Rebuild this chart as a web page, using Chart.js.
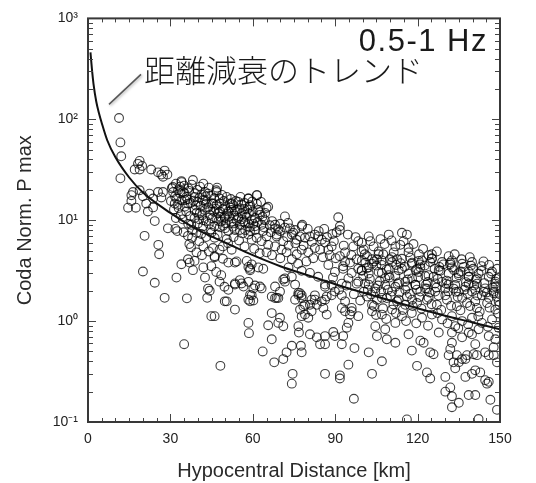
<!DOCTYPE html>
<html>
<head>
<meta charset="utf-8">
<script src="https://cdn.jsdelivr.net/npm/chart.js@4.4.1/dist/chart.umd.min.js"></script>
<style>
  html, body { margin: 0; padding: 0; background: #fff; }
  canvas { display: block; }
</style>
</head>
<body>
<canvas id="c" width="536" height="483"></canvas>
<script>
// ---------------- data ----------------
const xTickValues = [0, 30, 60, 90, 120, 150];
const yTickValues = [0.1, 1, 10, 100, 1000];
const yTickLabels = ['10\u207B\u00B9', '10\u2070', '10\u00B9', '10\u00B2', '10\u00B3'];
const xTitle = 'Hypocentral Distance [km]';
const yTitle = 'Coda Norm. P max';
const bandLabel = '0.5-1 Hz';
const trendLabel = '距離減衰のトレンド';

// attenuation trend curve (distance km, value)
const trendKm   = [0.9, 1.5, 2, 3, 4, 5, 7, 10, 15, 20, 30, 40, 50, 60, 70, 80, 90, 100, 110, 120, 130, 140, 150];
const trendPmax = [460, 300, 225, 150, 115, 92, 62, 42, 26.5, 18.8, 11.8, 8.0, 6.0, 4.5, 3.5, 2.85, 2.32, 1.92, 1.6, 1.34, 1.13, 0.97, 0.83];

// observations [hypocentral distance km, coda normalised P max]
const nearObs = [
  [11.3,103],[11.8,59],[12.1,43],[11.8,26],
  [18.8,38.7],[18.2,36.2],[17,31.8],[18.8,31.8],[19.7,34.5],
  [23,31.8],[25.5,29.8],[26.7,28.3],[27.9,31],[28.9,28.3],[27.3,27],
  [16.4,19],[15.8,17.7],[18.8,19.8],[15.8,15.5],[14.6,13.3],[17.4,13.3],
  [20,17.3],[22.4,18.3],[23.7,16.4],[21.2,14.6],[21.8,12.2],[23.7,13.4],[25.5,19],[26.7,16.8],[27.3,19],
  [24.3,9.8],[20.6,7.0],[25.6,5.7],[25.9,4.6],[29.1,8.3],[31.8,8.2],[32.5,7.8],
  [20,3.1],[24.3,2.4],[27.9,1.7],[32.2,2.7]
];
const midObs = [
  [34,24.4],[38.2,25],[30.9,21.3],[32.8,19.8],[34.6,19.1],[32.2,16.4],[34,15.8],[35.8,17],[31.6,14.6],[35.2,13.6],
  [36.4,14.6],[38.8,17],[40,15.2],[41.9,15.8],[43.7,18.3],[46.7,19.8],[45.5,14.6],[47.9,14.6],[38.8,12.6],[40.7,11.7],
  [42.5,12.6],[44.3,11.3],[46.7,10.5],[48.5,9.7],[49.7,10.9],[38.8,10.5],[40,9.3],[41.9,8.7],[37.6,9.0],[44.9,7.5],
  [46.1,6.7],[45.5,5.3],[47.9,5.1],[46.1,4.4],[49.1,5.5],[36.4,4.1],[38.8,3.95],[36.4,7.0],[36.9,5.8],[37.5,5.4],
  [34.1,23.8],[46.8,19],[48,16.4],[52.3,14.7],[58.4,16.4],[61.4,17.7],[59,13.6],[62,12.6],[65,13.2],[56,11.7],
  [52.3,12.6],[54.1,10],[57.2,9.45],[60.8,10.5],[64.4,10],[68.1,9.0],[71.7,8.45],[75.4,8.0],[77.8,8.7],[71.7,10.9],
  [74.2,7.2],[68.7,7.2],[65,6.9],[60.8,8.0],[58.4,7.2],[55.3,8.0],[51.1,7.8],[49.9,10.5],[47.4,11.7],[45,14.7],
  [42.6,15.8],[39,18.5],[35.3,15.8],[31.7,17.2],[30.5,20.7],[33.5,18.5],[36.5,20.7],[40.8,21.5],[42.6,19],[54.7,15.2],
  [34,3.66],[37,3.8],[38.2,3.2],[42,3.4],[42.6,2.7],[43.7,2.1],[44.3,2.0],[43.4,1.7],[44.9,1.12],[46.1,1.12],
  [35,0.59],[48.2,0.36],[49.8,1.57],[36,1.68],[44.9,3.5],[46.7,3.07],[48.5,2.85],[47.9,2.46],[49.7,2.19],[46.1,4.3],[49.1,4.15],
  [40.5,6.2],[42,5.5],[43,6.8],[39.5,4.8],[41.5,4.5],[44,4.9],[50.5,6.5],[48,8.5],[43,9.8],[39.5,7.5],
  [31,19],[32,23],[33.5,21.5],[35,22],[36.8,19.5],[37.8,22.5],[39.8,20],[41.3,18],[42,23],[44,21],
  [44.8,17.5],[46,16.5],[47,21],[48.8,17.8],[49.5,15.5],[33,13.2],[35.8,12.2],[37.2,11],[39.2,14],[41,13.8],
  [43,14.5],[44.5,12.8],[46.5,13],[48,12.2],[50,13.5],[32,10.5],[34.5,10.2],[36.5,9.2],[38,8],[40.5,10.2],
  [42,10],[44,9.2],[46,8.7],[47.5,9.8],[49.2,8.8],
  [30.2,15.5],[31.3,12.8],[32.6,14.2],[33.8,11.4],[35.1,18.6],[36.2,16.1],[37.4,14.8],[38.4,15.6],[39.6,11.9],[40.6,16.8],
  [41.6,11.2],[42.8,17.2],[43.8,13.4],[45.2,10.4],[45.9,12.1],[46.9,14.2],[48.2,10.8],[49.1,12.9],[50.8,11.6],[51.9,13.4],
  [53.2,11.1],[54.4,12.7],[55.8,14.3],[56.9,12.9],[58.6,11.7],[59.8,15.3],[34.8,7.6],[37.9,6.7],[41.2,7.3],[44.6,8.1],
  [47.2,7.2],[50.2,9.3],[52.8,8.6],[56.2,7.4],[58.9,8.5],[61.8,9.6],[63.5,10.8],[66.2,8.9],[69.3,8.1],[72.8,9.4]
];
const farObs = [
  [51.7,14.6],[52.9,14.1],[51.1,12.2],[53.5,12.2],[55.3,13.1],[54.7,10.5],[57.2,11.3],[56.6,9.7],[58.4,9.3],[59.6,10],
  [60.8,8.7],[63.2,9.0],[63.8,7.8],[59,7.8],[57.2,8.0],[55.3,9.0],[52.3,9.7],[49.9,8.3],[53.5,8.0],
  [61.6,17.7],[58.4,16.4],[59,14.1],[65.6,13.6],[62.5,12.0],[62.6,11.3],
  [68.1,8.3],[69.9,7.8],[68.7,6.9],[71.1,6.2],[73.5,8.3],[74.7,7.5],[76,6.4],[77.2,6.9],[78,9.0],[79,6.7],
  [80.8,6.9],[82.6,7.2],[83.8,6.9],[85.1,6.4],[86.3,6.0],[87.5,5.1],[88.7,5.5],[84.5,5.1],[82.6,5.3],[80.2,4.8],
  [77.8,5.1],[76,4.6],[74.2,4.1],[72.3,4.8],[70.5,5.1],[68.1,5.5],[65.6,5.7],[63.2,6.2],[61.4,6.7],[59.6,6.4],
  [91.1,10.7],[91.7,8.7],[91.7,8.0],[90.5,7.6],[93.6,4.8],[91.7,4.4],[92.9,3.5],[95.4,3.8],[96.6,5.5],[98.4,6.2],
  [99.6,4.9],[97.8,4.1],[98.4,3.3],[96,3.0],[94.8,2.65],[92.4,2.35],[97.8,2.35],[100.2,2.8],
  [52.3,5.1],[51.1,3.8],[53.5,3.8],[57.8,3.95],[59.6,3.65],[62,3.4],[59,3.3],[63.8,3.3],[55.3,2.55],[53.5,2.3],
  [56.6,2.2],[58.4,2.45],[60.8,2.25],[62.6,2.2],[59.6,1.8],[59,1.57],[66.9,1.75],[68.7,1.7],[69.9,1.96],[68.1,2.2],
  [71.7,2.65],[74.2,2.75],[75.4,2.3],[76.6,1.9],[77.8,1.8],[79,1.45],[81.4,1.63],[82.6,1.8],[83.3,1.45],[86.3,1.63],
  [88.7,1.8],[89.9,1.96],[92.4,1.8],[93.6,1.57],[96,1.35],[86.3,2.3],[83.8,2.75],[80.8,3.0],[77.8,3.15],
  [64,8.5],[66.5,7.6],[67,9.8],[70,9.2],[72.5,6.8],[73,5.6],[75.5,5.9],[78.5,5.6],[80,8.2],[81.5,6.1],
  [84,7.8],[86,8.2],[87,6.8],[89,7.3],[89.5,6.2],[88,4.5],[85.5,4.3],[82,4.2],[79.5,3.9],[76.5,3.7],
  [73,3.4],[70,4.2],[67,4.5],[65,4.8],[62.5,4.7],[60.5,5.2],[57,5.5],[55,6.3],[53,6.8],[51,5.9],
  [50.5,17],[52,16.2],[53.8,15.5],[55.5,17],[57,14.8],[58,12.8],[60,12.2],[61.5,14.5],[63,15.2],[64.5,11.8],
  [51.5,10.8],[53,9.3],[56,10.2],[57.8,10.8],[60.2,9.2],
  [54.1,3.9],[58.4,3.44],[59,3.19],[53.5,2.36],[55.9,2.36],[51.1,2.04],[60.2,2.11],[63.2,2.11],[59,1.82],[60.2,1.6],
  [58.4,1.63],[50.5,1.57],[53.5,1.3],[71.1,2.58],[71.7,2.46],[68.1,1.69],[69.3,1.69],[75.4,1.63],[76.6,1.82],[66.9,1.2],
  [69.9,1.08],[71.1,0.89],[69.3,0.96],[58.4,0.96],[58.6,0.76],[65.6,0.91],[76.6,0.89],[76.8,0.77],[66.9,0.66],[63.6,0.5],
  [67.8,0.39],[72.3,0.49],[71.1,0.42],[74.2,0.57],[77.5,0.57],[77.8,0.49],[74.5,0.3],[74.2,0.24],[79,1.16],[77.8,1.12],
  [80.2,1.08],[77.2,1.3],[78.4,1.4],[77.8,1.69],[77.2,1.89],[80.8,0.74],[83.3,0.69],[86.3,0.71],[86.3,0.59],[84.5,0.59],
  [89.9,0.71],[89.3,0.78],[92.4,0.59],[92.9,0.71],[94.2,0.86],[94.8,0.96],[95.4,1.16],[93.6,1.25],[96,1.25],[98.4,1.12],
  [86.3,0.3],[91.7,0.29],[91.7,0.27],[94.8,0.37],[96.8,0.17],[97,0.54],[86.9,1.75],[85.1,1.57],[85.7,1.35],[82.6,1.63],
  [86.9,1.16],[80.8,1.45],[81.4,1.25],[89.9,3.07],[92.9,3.3],[93.6,3.85],[86.3,2.19],[88.7,2.28],[98.4,2.46],[99.6,3.19],[92.4,1.35],
  [87.5,3.6],[90.2,4.2],[93.1,5.6],[95.9,4.5],[97.4,6.8],[94.6,7.2],[89.2,2.7],[91.4,2.05],[94.1,2.25],[96.8,1.85],[99.1,1.6]
];
const distantObs = [
  [114.3,7.5],[116.1,7.2],[114.9,6.2],[113.7,5.7],[116.7,5.3],[116.7,4.8],[102.2,6.9],[102.8,6.2],[105.8,4.9],[105.8,4.6],
  [105.2,4.1],[111.9,5.5],[111.3,4.8],[110.7,4.3],[112.5,4.1],[125.2,4.6],[125.2,4.2],[131.3,4.4],[131.9,3.8],[132.5,3.4],
  [144,3.9],[134.9,2.98],[138.6,3.1],[138.6,2.75],[138.6,2.35],[141.6,2.65],[141.6,2.35],[148.3,2.35],[148.3,2.2],[120.4,3.95],
  [119.8,3.3],[118,3.8],[121,3.4],[122.8,2.8],[128.3,3.15],[125.8,2.75],[99.7,6.0],[100.4,5.1],[101.6,4.4],[101,3.8],
  [103.4,4.1],[102.2,3.4],[99.7,3.15],
  [107,3.0],[109.5,3.3],[108.2,2.65],[111.9,2.8],[114.3,3.3],[115.5,2.45],[118,2.65],[119.2,2.3],[121,1.96],[123.4,2.1],
  [124,1.7],[126.4,1.96],[128.9,2.45],[131.3,2.3],[130.1,1.8],[133.1,2.1],[134.9,1.96],[136.2,1.7],[139.8,1.96],[141,1.57],
  [143.4,1.8],[145.9,1.7],[147.7,1.96],[149.5,1.57],[104.6,1.96],[107,1.7],[110.7,1.96],[113.1,1.63],[115.5,1.45],[118,1.63],
  [102.2,2.3],[100.4,1.96],[103.4,1.45],
  [99.7,3.99],[103.4,3.7],[107,3.99],[110.7,3.85],[114.3,4.15],[117.9,3.7],[121.6,3.99],[125.2,4.15],[128.9,3.85],[132.5,3.99],
  [136.2,3.7],[139.8,3.85],[102.2,2.96],[105.8,3.07],[109.5,2.85],[113.1,3.19],[116.7,2.96],[120.4,3.07],[124,2.85],[127.7,3.19],
  [131.3,2.96],[135,2.85],[138.6,2.75],[142.2,2.96],[145.9,2.75],[148.3,2.46],[100.9,2.36],[104.6,2.11],[108.2,2.28],[111.9,2.19],
  [115.5,2.04],[119.2,2.28],[122.8,2.11],[126.4,2.36],[130.1,2.11],[133.7,2.28],[137.4,2.19],[141,2.04],[144.6,2.11],[147.7,1.89],
  [101.6,1.75],[105.2,1.63],[108.8,1.69],[112.5,1.57],[116.1,1.75],[119.8,1.51],[123.4,1.63],[127,1.45],[130.7,1.63],[134.3,1.4],
  [138,1.51],[141.6,1.35],[145.3,1.51],[148.3,1.3],[103.4,1.25],[107,1.16],[110.7,1.3],[114.3,1.12],[117.9,1.2],[121.6,1.08],
  [125.2,1.16],[128.9,1.04],[132.5,1.12],[136.2,1.0],[139.8,1.08],[143.4,0.96],[147.1,1.04],[149.5,0.86],[104.6,0.89],[108.2,0.83],
  [111.9,0.96],[105.2,0.71],[108.8,0.66],[111.9,0.61],[116.7,0.74],[121,0.64],[122.2,0.61],[127.7,0.77],[132.5,0.77],[133.7,0.89],
  [136.2,0.69],[139.8,0.74],[142.2,0.83],[145.9,0.71],[148.3,0.66],[137.4,0.42],[138.6,0.77],[135,0.39],
  [102.2,0.49],[107,0.40],[103.4,0.30],[116.1,0.106],[142.2,0.107],[117.9,0.51],[119.8,0.36],[124.6,0.49],[125.8,0.47],[123.4,0.31],
  [124.6,0.27],[130.1,0.28],[130.1,0.20],[131.9,0.22],[132.5,0.18],[135,0.155],[132.5,0.14],[138.6,0.185],[141,0.185],[146.5,0.166],
  [148.9,0.132],[144.6,0.26],[145.3,0.24],[145.9,0.25],[141,0.325],[142.8,0.31],[139.8,0.30],[137.4,0.28],[133.1,0.39],[133.7,0.34],
  [136.2,0.42],[134.3,0.46],[131.3,0.46],[131.9,0.53],[132.5,0.61],[141,0.59],[140.4,0.47],[138,0.46],[141.6,0.46],[144.6,0.49],
  [145.9,0.46],[147.7,0.46],[148.9,0.39],[147.7,0.55],
  [101.5,3.35],[105,3.55],[108.7,3.25],[112.2,3.6],[115.3,3.45],[119.3,3.2],[122.6,3.55],[126.2,3.3],[129.4,3.65],[133.3,3.2],
  [136.8,3.45],[140.2,3.3],[143.3,3.5],[147.1,3.1],[102.6,2.62],[106.2,2.48],[109.8,2.7],[113.2,2.42],[116.4,2.58],[120.2,2.72],
  [123.7,2.44],[127.3,2.63],[130.6,2.52],[134.2,2.68],[137.6,2.43],[141.2,2.57],[144.3,2.38],[148.6,2.62],[103.1,1.84],[106.7,1.97],
  [110.2,1.78],[113.4,1.92],[117.2,1.86],[120.6,1.73],[124.3,1.92],[127.6,1.79],[131.2,1.97],[134.6,1.74],[138.2,1.87],[141.7,1.79],
  [145.2,1.92],[148.8,1.74],[104.1,1.41],[107.4,1.34],[111.2,1.46],[114.6,1.29],[118.2,1.41],[121.4,1.33],[125.1,1.47],[128.6,1.29],
  [132.2,1.42],[135.6,1.28],[139.1,1.41],[142.6,1.24],[146.2,1.36],[149.3,1.19],
  [106.5,6.5],[108,5.8],[109.5,7.2],[110.5,6.3],[104,5.5],[107.5,4.6],[118.5,5.8],[120.5,4.6],[122,5.2],[124,4.5],
  [127,4.9],[133.5,4.6],[136,4.1],[139,4.3],[146,3.6],[149,3.3],
  [100.8,4.6],[104.2,3.9],[106.9,3.6],[109.9,4.1],[113.8,3.75],[117.3,4.25],[120.9,3.65],[124.6,3.85],[127.9,3.45],[131.8,3.65],
  [135.7,3.1],[139.4,3.55],[143.2,3.15],[146.8,2.95],[149.6,2.7],[101.9,2.05],[105.6,2.25],[109.2,2.05],[112.7,2.35],[116.2,2.2],
  [119.7,2.05],[123.1,2.3],[126.9,2.15],[130.4,2.35],[133.9,1.95],[137.1,2.05],[140.6,2.25],[144.1,1.95],[147.4,2.15],[149.9,1.85],
  [104.9,1.15],[108.6,1.05],[112.1,1.2],[115.8,1.0],[119.5,0.95],[123.8,0.9],[127.3,1.2],[130.9,0.95],[134.8,0.85],[138.4,0.93],
  [142.1,1.12],[145.6,0.88],[149.8,1.45]
];
const observations = [...nearObs, ...midObs, ...farObs, ...distantObs];

// ---------------- drawing ----------------
const SANS = '"Liberation Sans", Arial, Helvetica, sans-serif';
const CJK = '"Noto Sans CJK JP", "Noto Sans CJK SC", sans-serif';

const decor = {
  id: 'decor',
  afterDatasetsDraw(chart) {
    const { ctx, chartArea: a, scales: { x, y } } = chart;
    ctx.save();
    ctx.strokeStyle = '#444';
    ctx.lineWidth = 1;
    // x ticks every 5 km, inward, bottom and top
    for (let v = 0; v <= 150; v += 5) {
      const px = Math.round(x.getPixelForValue(v)) + 0.5;
      const len = (v % 30 === 0) ? 8 : 4;
      ctx.beginPath();
      ctx.moveTo(px, a.bottom); ctx.lineTo(px, a.bottom - len);
      ctx.moveTo(px, a.top); ctx.lineTo(px, a.top + len);
      ctx.stroke();
    }
    // y log ticks inward, left and right
    for (const d of [0.1, 1, 10, 100]) {
      for (let m = 1; m <= 10; m++) {
        const v = d * m;
        const py = Math.round(y.getPixelForValue(v)) + 0.5;
        const len = (m === 1 || m === 10) ? 8 : 5;
        ctx.beginPath();
        ctx.moveTo(a.left, py); ctx.lineTo(a.left + len, py);
        ctx.moveTo(a.right, py); ctx.lineTo(a.right - len, py);
        ctx.stroke();
      }
    }
    // frame
    ctx.lineWidth = 2;
    ctx.strokeStyle = '#383838';
    ctx.strokeRect(a.left, a.top, a.right - a.left, a.bottom - a.top);

    // band label
    ctx.fillStyle = '#1a1a1a';
    ctx.font = '300 31px ' + SANS;
    ctx.textAlign = 'right';
    ctx.textBaseline = 'alphabetic';
    if ('letterSpacing' in ctx) ctx.letterSpacing = '1.5px';
    ctx.fillText(bandLabel, a.right - 12, a.top + 33);
    if ('letterSpacing' in ctx) ctx.letterSpacing = '0px';

    // trend label and pointer
    ctx.font = '300 31px ' + CJK;
    ctx.textAlign = 'left';
    ctx.fillText(trendLabel, a.left + 56, a.top + 64);
    ctx.shadowColor = 'rgba(0,0,0,0.35)';
    ctx.shadowBlur = 3;
    ctx.shadowOffsetX = 1;
    ctx.shadowOffsetY = 1;
    ctx.strokeStyle = '#555';
    ctx.lineWidth = 1.5;
    ctx.beginPath();
    ctx.moveTo(a.left + 21, a.top + 86);
    ctx.lineTo(a.left + 53, a.top + 56);
    ctx.stroke();
    ctx.restore();
  }
};

new Chart(document.getElementById('c'), {
  type: 'scatter',
  data: {
    datasets: [
      {
        type: 'line',
        label: 'trend',
        data: trendKm.map((k, i) => ({ x: k, y: trendPmax[i] })),
        borderColor: '#111',
        borderWidth: 2,
        pointRadius: 0,
        cubicInterpolationMode: 'monotone',
        fill: false,
        order: 0
      },
      {
        label: 'obs',
        data: observations.map(p => ({ x: p[0], y: p[1] })),
        pointRadius: 4.4,
        pointBorderWidth: 1.1,
        pointBorderColor: 'rgba(0,0,0,0.75)',
        pointBackgroundColor: 'rgba(0,0,0,0)',
        showLine: false,
        order: 1
      }
    ]
  },
  options: {
    responsive: false,
    animation: false,
    events: [],
    layout: { padding: { left: 0, right: 36, top: 12, bottom: 0 } },
    plugins: { legend: { display: false }, tooltip: { enabled: false } },
    scales: {
      x: {
        type: 'linear',
        min: 0, max: 150,
        afterBuildTicks: s => { s.ticks = xTickValues.map(v => ({ value: v })); },
        afterFit: s => { s.height = 61; },
        grid: { display: false, drawTicks: false },
        border: { display: false },
        ticks: { color: '#222', font: { family: SANS, size: 14 }, padding: 9, maxRotation: 0, autoSkip: false },
        title: { display: true, text: xTitle, color: '#2a2a2a', font: { family: SANS, size: 20 }, padding: { top: 0, bottom: 0 } }
      },
      y: {
        type: 'logarithmic',
        min: 0.1, max: 1000,
        afterBuildTicks: s => { s.ticks = yTickValues.map(v => ({ value: v })); },
        afterFit: s => { s.width = 88; },
        grid: { display: false, drawTicks: false },
        border: { display: false },
        ticks: {
          color: '#222', font: { family: SANS, size: 14 }, padding: 10, autoSkip: false,
          callback: (v, i) => yTickLabels[i]
        },
        title: { display: true, text: yTitle, color: '#2a2a2a', font: { family: SANS, size: 20 }, padding: { top: 13, bottom: 0 } }
      }
    }
  },
  plugins: [decor]
});
</script>
</body>
</html>
